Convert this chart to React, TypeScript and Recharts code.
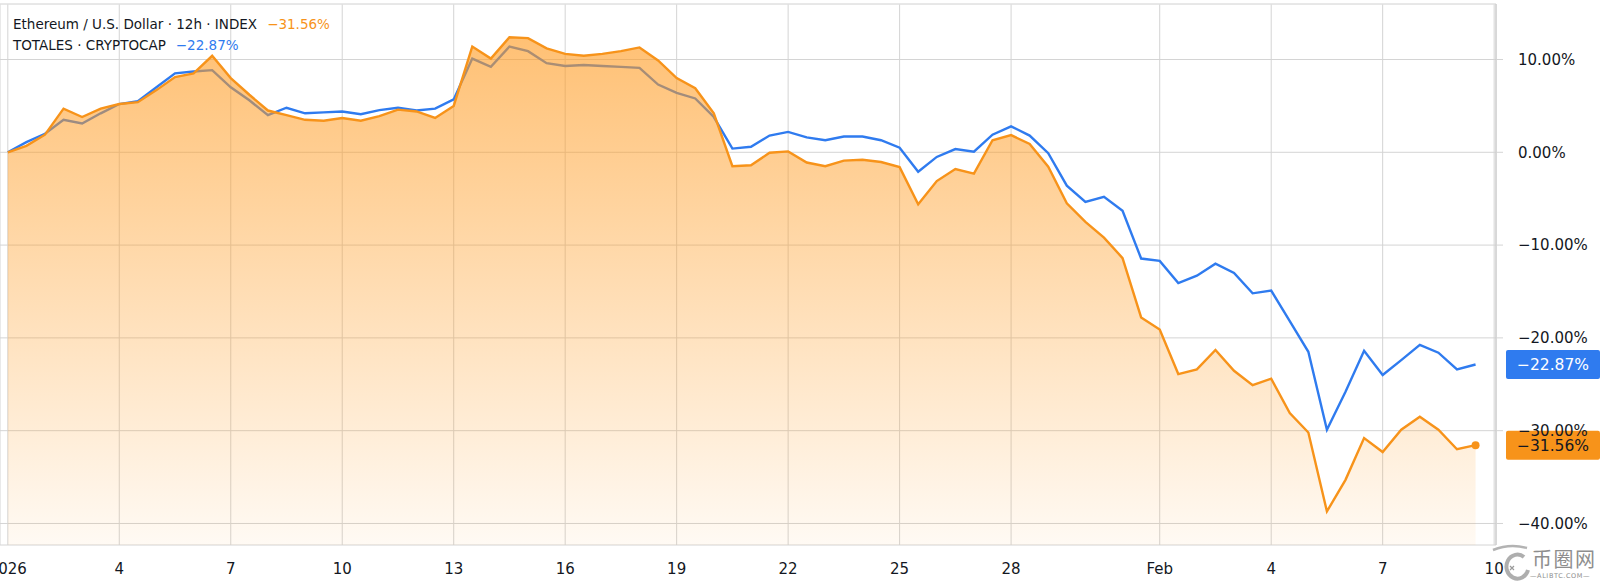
import React from "react";
import {
  ComposedChart,
  Area,
  Line,
  XAxis,
  YAxis,
  CartesianGrid,
  ReferenceLine,
  ReferenceDot,
} from "recharts";

// 12h bars from Jan 1 2026 00:00 to Feb 9 2026 12:00 (percent change)
const ethValues = [
  0, 0.7, 1.9, 4.7, 3.8, 4.7, 5.2, 5.4, 6.7, 8.1,
  8.5, 10.4, 8.0, 6.2, 4.5, 4.0, 3.5, 3.4, 3.7, 3.4,
  3.9, 4.6, 4.4, 3.7, 5.0, 11.4, 10.1, 12.4, 12.3, 11.2,
  10.6, 10.4, 10.6, 10.9, 11.3, 9.9, 8.0, 6.9, 4.2, -1.5,
  -1.4, -0.05, 0.1, -1.1, -1.5, -0.9, -0.8, -1.05, -1.6, -5.6,
  -3.1, -1.8, -2.3, 1.3, 1.85, 0.9, -1.55, -5.5, -7.5, -9.2,
  -11.4, -17.8, -19.1, -23.9, -23.4, -21.3, -23.55, -25.1, -24.4, -28.1,
  -30.2, -38.7, -35.3, -30.8, -32.3, -29.9, -28.5, -29.9, -32.0, -31.56,
];

const totalValues = [
  0, 1.1, 2.0, 3.5, 3.1, 4.2, 5.2, 5.5, 7.0, 8.5,
  8.7, 8.85, 7.0, 5.6, 4.0, 4.8, 4.2, 4.3, 4.4, 4.1,
  4.55, 4.8, 4.5, 4.7, 5.7, 10.1, 9.2, 11.4, 10.9, 9.6,
  9.3, 9.4, 9.3, 9.2, 9.1, 7.3, 6.4, 5.8, 3.8, 0.4,
  0.6, 1.8, 2.2, 1.6, 1.3, 1.7, 1.7, 1.3, 0.5, -2.1,
  -0.5, 0.35, 0.07, 1.9, 2.8, 1.8, -0.1, -3.6, -5.35, -4.8,
  -6.3, -11.45, -11.7, -14.1, -13.3, -12.0, -13.0, -15.2, -14.9, -18.2,
  -21.5, -29.9, -25.8, -21.4, -24.0, -22.4, -20.75, -21.6, -23.4, -22.87,
];

// x position in days since Jan 1 (12h steps)
const dayOffsets = ethValues.map((_, i) => i * 0.5);

const xTickDays = [0, 3, 6, 9, 12, 15, 18, 21, 24, 27, 31, 34, 37, 40];
const xTickLabels = ["2026", "4", "7", "10", "13", "16", "19", "22", "25", "28", "Feb", "4", "7", "10"];
const yTicks = [-40, -30, -20, -10, 0, 10];

const ethLast = ethValues[ethValues.length - 1];
const totalLast = totalValues[totalValues.length - 1];

const ETH_COLOR = "#F7931A";
const TOTAL_COLOR = "#2F7BEF";
const GRID = "#d4d4d4";
const TEXT = "#131722";
const FONT = "'DejaVu Sans', sans-serif";

const data = dayOffsets.map((d, i) => ({ d, eth: ethValues[i], total: totalValues[i] }));

const X_DOMAIN: [number, number] = [-0.21, 40.05];
const Y_DOMAIN: [number, number] = [-42.32, 15.98];

const fmtPct = (v: number) => (v < 0 ? "\u2212" : "") + Math.abs(v).toFixed(2) + "%";
const fmtX = (v: number) => {
  const k = xTickDays.indexOf(v);
  return k >= 0 ? xTickLabels[k] : "";
};

function makeEndLabel(bg: string, color: string, value: number) {
  return (props: any) => {
    const vb = props.viewBox || {};
    const x0 = vb.x + vb.width + 10;
    const y = vb.y;
    return (
      <g>
        <rect x={x0} y={y - 14.5} width={94} height={29} rx={2} fill={bg} />
        <text
          x={x0 + 47}
          y={y}
          dy="0.36em"
          textAnchor="middle"
          fill={color}
          fontSize={15.5}
          fontFamily={FONT}
        >
          {fmtPct(value)}
        </text>
      </g>
    );
  };
}

export default function App() {
  return (
    <div
      style={{
        position: "absolute",
        left: 0,
        top: 0,
        width: 1600,
        height: 585,
        background: "#ffffff",
        overflow: "hidden",
      }}
    >
      <ComposedChart
        width={1600}
        height={585}
        data={data}
        margin={{ top: 4, right: 0, bottom: 0, left: 0 }}
      >
        <defs>
          <linearGradient id="ethFill" x1="0" y1="0" x2="0" y2="1">
            <stop offset="0%" stopColor="#FF9A1F" stopOpacity={0.62} />
            <stop offset="100%" stopColor="#FF9A1F" stopOpacity={0.05} />
          </linearGradient>
        </defs>
        <CartesianGrid stroke={GRID} strokeWidth={1} />
        <XAxis
          dataKey="d"
          type="number"
          domain={X_DOMAIN}
          allowDataOverflow
          ticks={xTickDays}
          interval={0}
          tickFormatter={fmtX}
          axisLine={false}
          tickLine={false}
          tickSize={0}
          tickMargin={18}
          height={40}
          tick={{ fill: TEXT, fontSize: 15, fontFamily: FONT }}
        />
        <YAxis
          orientation="right"
          type="number"
          domain={Y_DOMAIN}
          allowDataOverflow
          ticks={yTicks}
          interval={0}
          tickFormatter={fmtPct}
          width={104}
          axisLine={{ stroke: "#c8c8c8" }}
          tickLine={{ stroke: GRID }}
          tickSize={7}
          tickMargin={15}
          tick={{ fill: TEXT, fontSize: 15, fontFamily: FONT, textAnchor: "start" }}
        />
        <ReferenceLine y={Y_DOMAIN[1]} stroke="#e6e6e6" />
        <Line
          type="linear"
          dataKey="total"
          stroke={TOTAL_COLOR}
          strokeWidth={2.4}
          dot={false}
          activeDot={false}
          isAnimationActive={false}
          {...({ zIndex: 90 } as any)}
        />
        <Area
          type="linear"
          dataKey="eth"
          stroke={ETH_COLOR}
          strokeWidth={2.4}
          fill="url(#ethFill)"
          fillOpacity={1}
          baseValue="dataMin"
          dot={false}
          activeDot={false}
          isAnimationActive={false}
          {...({ zIndex: 100 } as any)}
        />
        <ReferenceDot
          x={dayOffsets[dayOffsets.length - 1]}
          y={ethLast}
          r={4}
          fill={ETH_COLOR}
          stroke="none"
        />
        <ReferenceLine
          y={totalLast}
          stroke="none"
          strokeOpacity={0}
          label={makeEndLabel("#2F7BEF", "#ffffff", totalLast)}
        />
        <ReferenceLine
          y={ethLast}
          stroke="none"
          strokeOpacity={0}
          label={makeEndLabel("#F7931A", "#131722", ethLast)}
        />
      </ComposedChart>

      {/* legend */}
      <div
        style={{
          position: "absolute",
          left: 13,
          top: 14,
          fontFamily: FONT,
          fontSize: 13.5,
          lineHeight: "21.4px",
          color: TEXT,
          whiteSpace: "nowrap",
          pointerEvents: "none",
        }}
      >
        <div>
          Ethereum / U.S. Dollar · 12h · INDEX
          <span style={{ color: ETH_COLOR, marginLeft: 10 }}>{fmtPct(ethLast)}</span>
        </div>
        <div>
          TOTALES · CRYPTOCAP
          <span style={{ color: TOTAL_COLOR, marginLeft: 10 }}>{fmtPct(totalLast)}</span>
        </div>
      </div>

      {/* watermark */}
      <svg
        width={45}
        height={45}
        style={{ position: "absolute", left: 1490, top: 540, pointerEvents: "none" }}
      >
        <path
          d="M 34 17 A 11 12 0 1 0 38 30"
          fill="none"
          stroke="#9a9a9a"
          strokeWidth={4}
          opacity={0.8}
        />
        <path d="M 3 10 Q 20 3 37 8" fill="none" stroke="#9a9a9a" strokeWidth={2.5} opacity={0.75} />
        <path d="M 20 26 L 24 30 M 24 26 L 20 30" stroke="#9a9a9a" strokeWidth={1.2} />
      </svg>
      <div
        style={{
          position: "absolute",
          left: 1532,
          top: 546,
          fontFamily: "'Noto Sans CJK SC', sans-serif",
          fontSize: 20,
          lineHeight: "26px",
          color: "#8e8e8e",
          letterSpacing: 1.5,
          pointerEvents: "none",
        }}
      >
        币圈网
      </div>
      <div
        style={{
          position: "absolute",
          left: 1530,
          top: 572,
          fontFamily: FONT,
          fontSize: 6.5,
          lineHeight: "9px",
          letterSpacing: 0.6,
          color: "#8e8e8e",
          pointerEvents: "none",
          whiteSpace: "nowrap",
        }}
      >
        —ALIBTC.COM—
      </div>
    </div>
  );
}
